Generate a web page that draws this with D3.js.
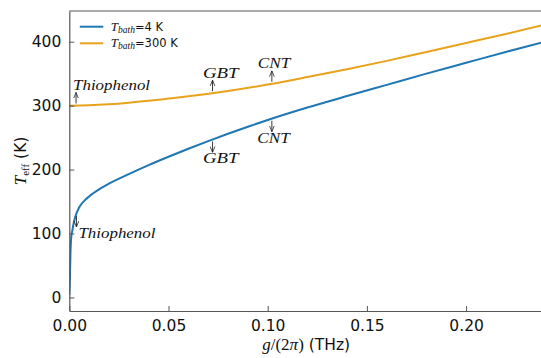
<!DOCTYPE html>
<html>
<head>
<meta charset="utf-8">
<script src="https://cdn.jsdelivr.net/npm/d3@7"></script>
<style>
  body { margin: 0; background: #fff; }
  svg { display: block; }
  .tick text { font-family: "DejaVu Sans", sans-serif; font-size: 15.5px; fill: #111; }
</style>
</head>
<body>
<div id="canvas"></div>
<script>
// coupling g/(2pi) in THz, effective temperature in K
const g4 = [0, 0.0003, 0.0006, 0.001, 0.0015, 0.002, 0.003, 0.005, 0.0075, 0.01, 0.015, 0.02, 0.03, 0.04, 0.05, 0.06, 0.07, 0.08, 0.09, 0.10, 0.12, 0.14, 0.16, 0.18, 0.20, 0.22, 0.24];
const t4 = [4, 30, 70, 95, 104, 113, 126, 141, 151, 158, 169, 178, 193, 207, 220, 232.5, 244.5, 256, 267, 277.5, 297, 315, 332.5, 350, 367, 384, 400];

const g300 = [0, 0.01, 0.02, 0.03, 0.04, 0.05, 0.06, 0.08, 0.10, 0.12, 0.14, 0.16, 0.18, 0.20, 0.22, 0.24];
const t300 = [300, 300.6, 302.2, 304.6, 307.6, 311, 314.5, 322.8, 333, 344.7, 357, 370, 384, 398, 412, 427];

const seriesNames = ["4 K", "300 K"];
const xTicks = [0, 0.05, 0.10, 0.15, 0.20];
const yTicks = [0, 100, 200, 300, 400];

// annotations: label, which curve, g position, arrow direction
const notes = [
    { label: "Thiophenol", s: 1, g: 0.0034, dir: 1, dx: -3 },
    { label: "GBT", s: 1, g: 0.0722, dir: 1, dx: -9.5 },
    { label: "CNT", s: 1, g: 0.1021, dir: 1, dx: -14 },
    { label: "Thiophenol", s: 0, g: 0.0036, dir: -1, dx: 2 },
    { label: "GBT", s: 0, g: 0.0722, dir: -1, dx: -9.5 },
    { label: "CNT", s: 0, g: 0.1021, dir: -1, dx: -14.5 }
];
const noteWidth = { "Thiophenol": 77, "GBT": 35.5, "CNT": 32.5 };

const colors = ["#1f77b4", "#e8a21c"];

const width = 541;
const height = 358;
const margin = { top: 11, left: 69.3, bottom: 47, right: -1 };
const iwidth = width - margin.left - margin.right;
const iheight = height - margin.top - margin.bottom;

const svg = d3.select("#canvas").append("svg")
    .attr("width", width)
    .attr("height", height);

svg.append("defs").append("clipPath").attr("id", "clip")
    .append("rect").attr("width", iwidth).attr("height", iheight);

const g = svg.append("g").attr("transform", `translate(${margin.left},${margin.top})`);

const x = d3.scaleLinear().domain([0, 0.0999 * iwidth / 198.2]).range([0, iwidth]);
const y = d3.scaleLinear().domain([-21.2, 448]).range([iheight, 0]);

const series = [
    g4.map((v, i) => [v, t4[i]]),
    g300.map((v, i) => [v, t300[i]])
];

const line = d3.line()
    .x(d => x(d[0]))
    .y(d => y(d[1]))
    .curve(d3.curveMonotoneX);

const plot = g.append("g").attr("clip-path", "url(#clip)");

plot.selectAll("path.curve").data(series).enter().append("path")
    .attr("class", "curve")
    .attr("d", line)
    .attr("fill", "none")
    .attr("stroke", (d, i) => colors[i])
    .attr("stroke-width", 2);

// axes, ticks pointing inward
const xAxis = g.append("g")
    .attr("transform", `translate(0,${iheight})`)
    .call(d3.axisBottom(x).tickValues(xTicks).tickFormat(d3.format(".2f")).tickSizeInner(-5).tickSizeOuter(0).tickPadding(9));
const yAxis = g.append("g")
    .call(d3.axisLeft(y).tickValues(yTicks).tickSizeInner(-5).tickSizeOuter(0).tickPadding(8));
[xAxis, yAxis].forEach(a => {
    a.select(".domain").attr("stroke", "#555").attr("stroke-width", 1.2);
    a.selectAll(".tick line").attr("stroke", "#555").attr("stroke-width", 1);
});
g.append("line")
    .attr("x1", 0).attr("x2", iwidth).attr("y1", 0).attr("y2", 0)
    .attr("stroke", "#555").attr("stroke-width", 1.2);

// arrows
const defs = svg.select("defs");
defs.append("marker")
    .attr("id", "head")
    .attr("viewBox", "0 -5 10 10")
    .attr("refX", 10).attr("refY", 0)
    .attr("markerWidth", 6).attr("markerHeight", 6)
    .attr("markerUnits", "userSpaceOnUse")
    .attr("orient", "auto")
    .append("path")
    .attr("d", "M0,-4L10,0L0,4")
    .attr("fill", "none")
    .attr("stroke", "#222")
    .attr("stroke-width", 1.3);

function curveAt(s, gv) {
    const gs = s === 0 ? g4 : g300;
    const ts = s === 0 ? t4 : t300;
    const i = d3.bisectRight(gs, gv);
    return d3.scaleLinear().domain([gs[i - 1], gs[i]]).range([ts[i - 1], ts[i]])(gv);
}

const ann = g.append("g");
notes.forEach(n => {
    const px = x(n.g);
    const py0 = y(curveAt(n.s, n.g)) - n.dir * 2;
    const py1 = y(curveAt(n.s, n.g)) - n.dir * 13;
    ann.append("line")
        .attr("x1", px).attr("x2", px)
        .attr("y1", py0).attr("y2", py1)
        .attr("stroke", "#222").attr("stroke-width", 0.9)
        .attr("marker-end", "url(#head)");
    ann.append("text")
        .attr("x", px + n.dx)
        .attr("y", n.dir > 0 ? py1 - 2.5 : py1 + 11)
        .attr("font-family", "'Liberation Serif', serif")
        .attr("font-style", "italic")
        .attr("font-size", 15)
        .attr("textLength", noteWidth[n.label])
        .attr("lengthAdjust", "spacingAndGlyphs")
        .attr("fill", "#111")
        .text(n.label);
});

// legend
const legend = g.append("g").attr("transform", "translate(10.5,15.7)");
seriesNames.forEach((name, i) => {
    const row = legend.append("g").attr("transform", `translate(0,${i * 16.6})`);
    row.append("line").attr("x1", 0).attr("x2", 23.5).attr("y1", 0).attr("y2", 0)
        .attr("stroke", colors[i]).attr("stroke-width", 2);
    const t = row.append("text").attr("x", 31).attr("y", 4).attr("fill", "#111");
    t.append("tspan").attr("font-family", "'Liberation Serif', serif").attr("font-style", "italic")
        .attr("font-size", 13).text("T");
    t.append("tspan").attr("font-family", "'Liberation Serif', serif").attr("font-style", "italic")
        .attr("font-size", 9.5).attr("dy", 2).text("bath");
    t.append("tspan").attr("font-family", "'DejaVu Sans', sans-serif")
        .attr("font-size", 11.5).attr("dy", -2).text("=" + name);
});

// axis labels
const xl = svg.append("text")
    .attr("x", margin.left + iwidth / 2 + 0.5)
    .attr("y", 349.5)
    .attr("text-anchor", "middle")
    .attr("fill", "#111");
xl.append("tspan").attr("font-family", "'Liberation Serif', serif").attr("font-style", "italic").attr("font-size", 17).text("g");
xl.append("tspan").attr("font-family", "'Liberation Serif', serif").attr("font-size", 17).text("/(2");
xl.append("tspan").attr("font-family", "'Liberation Serif', serif").attr("font-style", "italic").attr("font-size", 17).text("π");
xl.append("tspan").attr("font-family", "'Liberation Serif', serif").attr("font-size", 17).text(")");
xl.append("tspan").attr("font-family", "'DejaVu Sans', sans-serif").attr("font-size", 15.5).text(" (THz)");

const yl = svg.append("text")
    .attr("transform", `translate(25.5,${margin.top + iheight / 2}) rotate(-90)`)
    .attr("text-anchor", "middle")
    .attr("fill", "#111");
yl.append("tspan").attr("font-family", "'Liberation Serif', serif").attr("font-style", "italic").attr("font-size", 17).text("T");
yl.append("tspan").attr("font-family", "'Liberation Serif', serif").attr("font-size", 11).attr("dy", 3).text("eff");
yl.append("tspan").attr("font-family", "'DejaVu Sans', sans-serif").attr("font-size", 15.5).attr("dy", -3).text(" (K)");
</script>
</body>
</html>
